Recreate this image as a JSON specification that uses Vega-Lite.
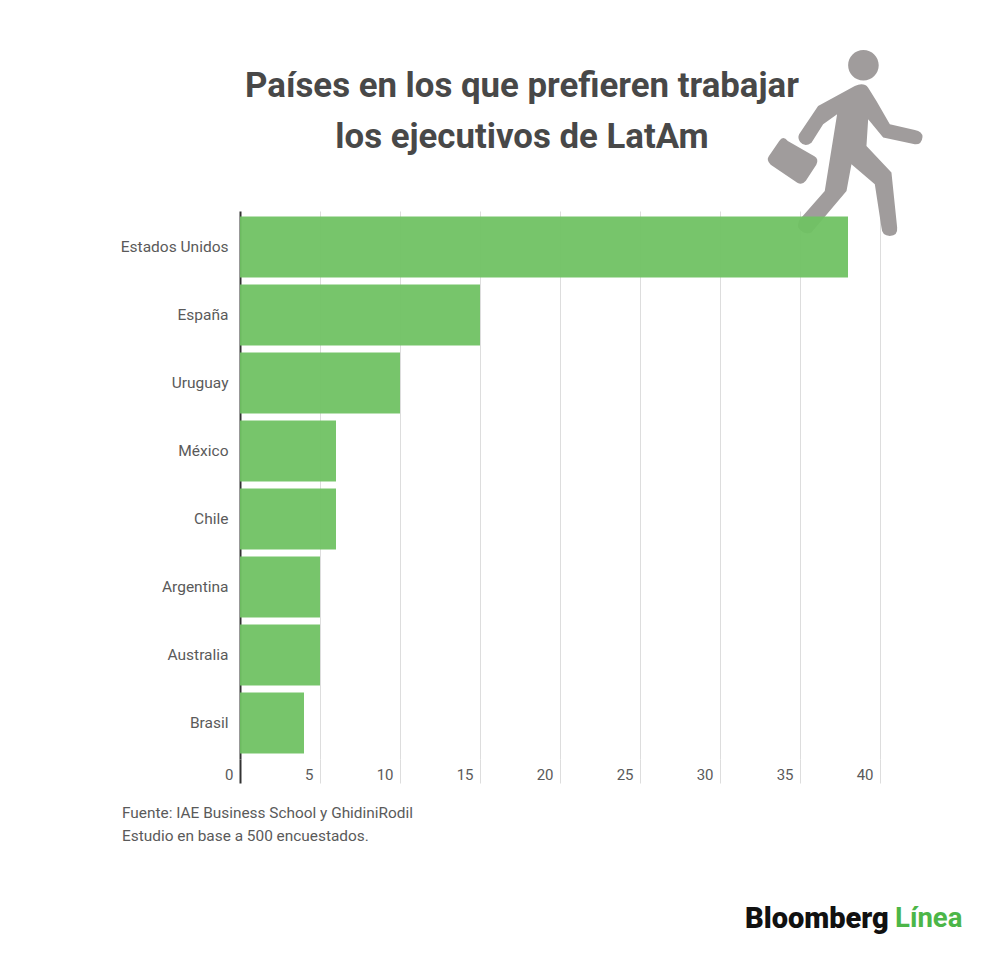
{
  "$schema": "https://vega.github.io/schema/vega-lite/v6.json",
  "autosize": "none",
  "padding": {"left": 240, "top": 211, "right": 120, "bottom": 195},
  "width": 640,
  "height": 548,
  "background": "#ffffff",
  "config": {"view": {"stroke": null}, "font": "Roboto"},
  "title": {
    "text": ["Países en los que prefieren trabajar", "los ejecutivos de LatAm"],
    "anchor": "middle",
    "frame": "group",
    "dx": -38,
    "dy": 164,
    "offset": 58,
    "font": "Roboto",
    "fontSize": 34.8,
    "fontWeight": "bold",
    "color": "#484848",
    "lineHeight": 51
  },
  "layer": [
    {
      "data": {"values": [{"figure": "walker"}]},
      "mark": {
        "type": "point",
        "filled": true,
        "opacity": 1,
        "color": "#a09c9c",
        "strokeWidth": 0,
        "size": 36100,
        "yOffset": -106,
        "shape": "M.035 -.796 A.161 .161 0 1 1 .357 -.796 A.161 .161 0 1 1 .035 -.796 Z M.105 -.579 Q.2 -.62 .246 -.561 L.333 -.421 L.474 -.175 L.737 -.116 Q.818 -.1 .818 -.042 Q.81 .04 .737 .035 L.404 -.035 L.246 -.228 L.228 .053 L.491 .333 L.551 .912 Q.56 1 .474 1 Q.39 1 .386 .912 L.316 .456 L.07 .246 L.018 .526 L-.351 .965 Q-.43 1 -.491 .912 Q-.5 .85 -.456 .807 L-.211 .526 L-.081 -.281 L-.228 -.175 L-.351 .018 Q-.42 .07 -.47 .01 Q-.5 -.03 -.481 -.07 L-.281 -.368 Z M-.6 0 L-.32 .16 Q-.27 .19 -.3 .25 L-.41 .42 Q-.45 .47 -.5 .44 L-.78 .25 Q-.83 .2 -.8 .16 L-.69 0 Q-.65 -.06 -.6 0 Z"
      },
      "encoding": {
        "x": {"datum": 37.8, "type": "quantitative", "scale": {"domain": [0, 40], "nice": false}},
        "y": {"datum": "Estados Unidos", "type": "nominal"}
      }
    },
    {
      "data": {
        "values": [
          {"pais": "Estados Unidos", "valor": 38},
          {"pais": "España", "valor": 15},
          {"pais": "Uruguay", "valor": 10},
          {"pais": "México", "valor": 6},
          {"pais": "Chile", "valor": 6},
          {"pais": "Argentina", "valor": 5},
          {"pais": "Australia", "valor": 5},
          {"pais": "Brasil", "valor": 4}
        ]
      },
      "mark": {"type": "bar", "color": "#70c263", "opacity": 0.95},
      "encoding": {
        "x": {
          "field": "valor",
          "type": "quantitative",
          "scale": {"domain": [0, 40], "nice": false},
          "axis": {
            "values": [0, 5, 10, 15, 20, 25, 30, 35, 40],
            "domain": false,
            "grid": true,
            "gridColor": {"condition": {"test": "datum.value === 0", "value": "#333333"}, "value": "#dddddd"},
            "gridWidth": {"condition": {"test": "datum.value === 0", "value": 2}, "value": 1},
            "ticks": true,
            "tickSize": 24,
            "tickColor": {"condition": {"test": "datum.value === 0", "value": "#333333"}, "value": "#dddddd"},
            "tickWidth": {"condition": {"test": "datum.value === 0", "value": 2}, "value": 1},
            "labelAlign": "right",
            "labelBaseline": "alphabetic",
            "labelPadding": -4,
            "labelOffset": -7,
            "labelFlush": false,
            "labelFont": "Roboto",
            "labelFontSize": 15,
            "labelColor": "#5a5a5a",
            "title": ["Fuente: IAE Business School y GhidiniRodil", "Estudio en base a 500 encuestados."],
            "titleX": -118.5,
            "titleY": 53,
            "titleAlign": "left",
            "titleBaseline": "middle",
            "titleFont": "Roboto",
            "titleFontSize": 15.4,
            "titleFontWeight": "normal",
            "titleColor": "#5a5a5a",
            "titleLineHeight": 23
          }
        },
        "y": {
          "field": "pais",
          "type": "nominal",
          "sort": null,
          "scale": {
            "domain": ["Estados Unidos", "España", "Uruguay", "México", "Chile", "Argentina", "Australia", "Brasil"],
            "paddingInner": 0.103,
            "paddingOuter": 0.08
          },
          "axis": {
            "title": null,
            "domain": false,
            "ticks": false,
            "grid": false,
            "labelPadding": 12,
            "labelOffset": 0,
            "labelFont": "Roboto",
            "labelFontSize": 15.5,
            "labelColor": "#5a5a5a"
          }
        }
      }
    },
    {
      "data": {"values": [{"marca": "Bloomberg"}]},
      "mark": {"type": "text", "align": "left", "baseline": "middle", "dy": 196, "font": "Roboto", "fontSize": 29, "fontWeight": 900, "color": "#111111"},
      "encoding": {
        "x": {"datum": 31.56, "type": "quantitative"},
        "y": {"datum": "Brasil", "type": "nominal"},
        "text": {"field": "marca"}
      }
    },
    {
      "data": {"values": [{"marca": "Línea"}]},
      "mark": {"type": "text", "align": "left", "baseline": "middle", "dy": 196, "font": "Roboto", "fontSize": 27.5, "fontWeight": "bold", "color": "#4cb648"},
      "encoding": {
        "x": {"datum": 40.94, "type": "quantitative"},
        "y": {"datum": "Brasil", "type": "nominal"},
        "text": {"field": "marca"}
      }
    }
  ]
}
